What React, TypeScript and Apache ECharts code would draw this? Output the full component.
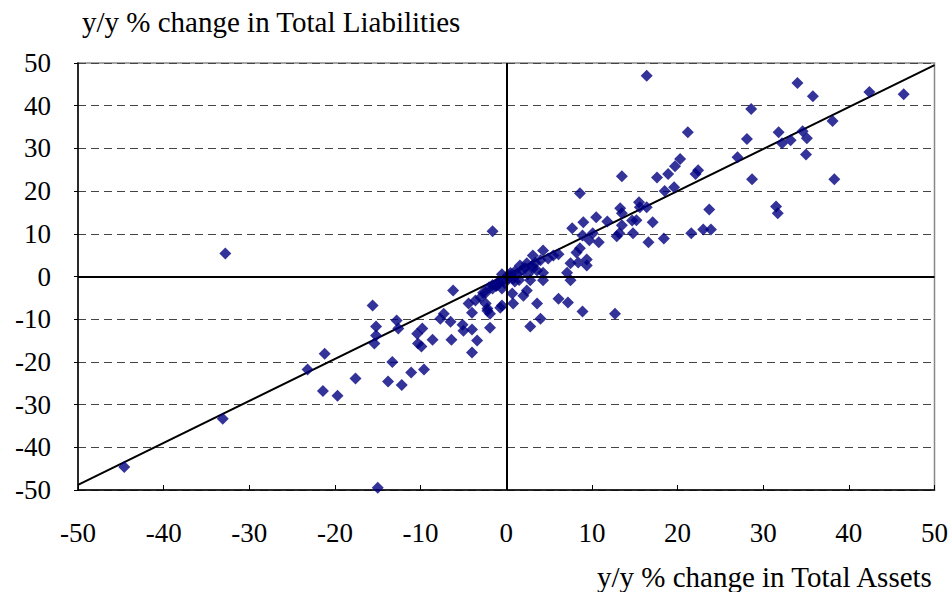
import React, { useEffect, useRef } from "react";
import * as echarts from "echarts";

const xTicks = [-50, 50];
const yTitle = "y/y % change in Total Liabilities";
const xTitle = "y/y % change in Total Assets";

const upperRight: number[][] = [
  [16.4, 47.0], [34.0, 45.3], [35.8, 42.2], [42.4, 43.2], [46.4, 42.7], [28.6, 39.2], [38.1, 36.4],
  [31.8, 33.8], [34.6, 34.0], [35.1, 32.4], [32.2, 31.2], [33.2, 31.9], [28.1, 32.2], [21.2, 33.8],
  [35.0, 28.6], [27.0, 27.9], [28.7, 22.8], [38.3, 22.8], [31.5, 16.4], [31.7, 14.8], [20.3, 27.5],
  [19.7, 25.8], [18.9, 24.0], [17.6, 23.2], [22.4, 24.9], [22.1, 24.0], [19.6, 20.9], [18.5, 20.0],
  [13.5, 23.5], [8.6, 19.5], [23.7, 15.7], [21.6, 10.1], [23.0, 11.0], [23.9, 11.0], [15.5, 17.4],
  [16.4, 16.2], [15.6, 16.2], [13.3, 16.0], [13.5, 14.8], [17.1, 12.7], [14.7, 13.1], [15.2, 13.2],
  [13.5, 12.0], [11.8, 12.9], [10.5, 13.9], [9.0, 12.7], [7.7, 11.3], [8.9, 9.6], [10.1, 10.1],
  [9.7, 8.5], [10.8, 8.0], [13.2, 10.1], [12.9, 9.4], [14.8, 10.1], [16.6, 8.0], [18.4, 8.9],
  [-1.6, 10.6], [-32.8, 5.4],
];

const nearOrigin: number[][] = [
  [4.3, 6.1], [3.1, 4.9], [5.5, 4.9], [6.1, 5.2], [4.9, 4.2], [4.0, 3.8], [1.6, 2.6], [2.4, 3.1],
  [3.6, 1.4], [4.3, 0.9], [7.5, 3.1], [8.2, 5.6], [8.6, 6.6], [9.4, 4.0], [9.4, 2.6], [8.4, 3.3],
  [7.1, 0.9], [7.5, -0.9], [-0.5, 0.5], [3.1, 1.9], [0.8, -0.5], [2.8, -0.9], [4.3, -0.9],
  [2.4, -3.3], [2.0, -4.5], [0.7, -4.0], [0.8, -6.3], [3.6, -6.3], [6.1, -5.2], [7.2, -6.1],
  [8.9, -8.2], [12.7, -8.7], [4.0, -9.9], [2.8, -11.7], [-0.5, -6.8],
  [0.5, 0.8], [1.0, 1.2], [1.3, 0.5], [1.8, 1.5], [2.2, 2.0], [0.3, -0.3], [1.0, -1.2],
  [1.5, -0.8], [2.5, 0.5], [3.0, 2.5], [3.4, 3.2], [0.2, 0.3],
  [-0.3, -0.8], [-0.8, -1.5], [-1.2, -2.2], [-1.6, -2.0], [-0.5, -2.8], [-2.0, -2.5], [-0.2, -1.5],
];

const lowerLeft: number[][] = [
  [-6.2, -3.3], [-1.1, -1.6], [-1.6, -2.8], [-2.4, -3.8], [-3.0, -4.9], [-3.6, -5.6], [-4.4, -6.3],
  [-4.0, -8.5], [-2.2, -7.5], [-2.4, -6.3], [-1.9, -8.7], [-0.7, -7.3], [-7.3, -8.7], [-7.7, -9.9],
  [-6.5, -10.6], [-5.1, -11.3], [-5.0, -12.7], [-4.0, -12.4], [-1.9, -12.0], [-9.8, -12.2],
  [-8.6, -14.8], [-6.4, -14.8], [-3.4, -15.0], [-4.0, -17.8], [-10.3, -15.7], [-9.9, -16.4],
  [-9.6, -21.8], [-15.6, -6.8], [-15.2, -11.7], [-15.2, -13.8], [-15.4, -15.7], [-12.8, -10.3],
  [-12.6, -12.2], [-10.4, -13.4], [-21.2, -18.1], [-23.2, -21.8], [-21.4, -26.8], [-19.7, -27.9],
  [-17.6, -23.9], [-13.3, -20.0], [-13.8, -24.6], [-12.2, -25.4], [-11.1, -22.5], [-15.0, -49.5],
  [-44.6, -44.6], [-33.1, -33.3], [-2.7, -3.8], [-1.1, -2.1], [-2.2, -8.0],
];

const fitLine: number[][] = [[-50, -48.8], [50, 49.5]];

const FONT = "'Liberation Serif', 'Times New Roman', serif";

export default function App() {
  const ref = useRef<HTMLDivElement>(null);
  useEffect(() => {
    if (!ref.current) return;
    const chart = echarts.init(ref.current, null, { renderer: "svg" });
    const axisLabel = { color: "#000", fontFamily: FONT, fontSize: 27 };
    chart.setOption({
      animation: false,
      backgroundColor: "#fff",
      grid: { left: 78, right: 15, top: 63, bottom: 102, show: true, borderColor: "#888", borderWidth: 1.5 },
      xAxis: {
        type: "value", min: xTicks[0], max: xTicks[1], interval: 10,
        axisLine: { onZero: false, lineStyle: { color: "#000", width: 1.5 } },
        axisTick: { inside: true, length: 5, lineStyle: { color: "#000" } },
        axisLabel: { ...axisLabel, margin: 29 },
        splitLine: { show: false },
      },
      yAxis: {
        type: "value", min: -50, max: 50, interval: 10,
        axisLine: { onZero: false, lineStyle: { color: "#000", width: 1.5 } },
        axisTick: { inside: false, length: 4, lineStyle: { color: "#000" } },
        axisLabel: { ...axisLabel, margin: 27 },
        splitLine: { show: true, lineStyle: { color: "#444", type: [8, 5], width: 1 } },
      },
      graphic: [
        { type: "text", left: 82, top: 7, style: { text: yTitle, fontFamily: FONT, fontSize: 29, fill: "#000" } },
        { type: "text", right: 17, top: 562, style: { text: xTitle, fontFamily: FONT, fontSize: 29, fill: "#000" } },
      ],
      series: [
        {
          type: "line", data: fitLine, symbol: "none", silent: true, z: 3,
          lineStyle: { color: "#000", width: 2 },
          markLine: {
            silent: true, symbol: "none", label: { show: false },
            lineStyle: { color: "#000", type: "solid", width: 2 },
            data: [{ xAxis: 0 }, { yAxis: 0 }],
          },
        },
        ...[upperRight, nearOrigin, lowerLeft].map((d) => ({
          type: "scatter", data: d, symbol: "diamond", symbolSize: 12, z: 4,
          itemStyle: { color: "#000080" },
        })),
      ],
    });
    return () => chart.dispose();
  }, []);
  return <div ref={ref} style={{ position: "absolute", left: 0, top: 0, width: 951, height: 592 }} />;
}
